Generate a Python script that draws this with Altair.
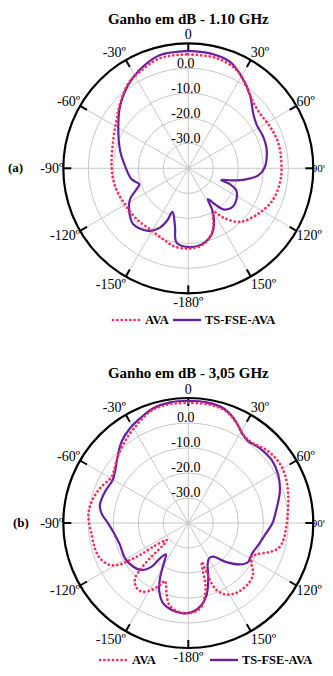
import altair as alt
import pandas as pd

# ------------------------------------------------------------------ data
TITLES = ["Ganho em dB - 1.10 GHz", "Ganho em dB - 3,05 GHz"]
PANELS = ["a", "b"]
TAGS = ["(a)", "(b)"]
SERIES = ["AVA", "TS-FSE-AVA"]

RING_LEVELS = [-30, -20, -10, 0]
RING_LABELS = ["-30.0", "-20.0", "-10.0", "0.0"]
DB_MIN, DB_MAX = -40, 10

ANGLE_TICKS = [0, 30, 60, 90, 120, 150, 180, 210, 240, 270, 300, 330]
ANGLE_LABELS = ["0", "30º", "60º", "90º", "120º", "150º", "-180º",
                "-150º", "-120º", "-90º", "-60º", "-30º"]

# panel (a) 1.10 GHz - AVA (dotted)
A_AVA_ANG = [0, 14.4, 26.2, 35.5, 40, 45, 52.5, 63, 74.5, 90, 98.9, 110, 121.7,
             136, 144.6, 150, 156.6, 162.6, 171.5, 180, 189.7, 199.4, 212,
             225.4, 240.4, 256.5, 271.7, 290.7, 304, 313.6, 324.8, 333.4, 345.6]
A_AVA_DB = [5.6, 5.5, 3.8, 0.1, -1.6, -3.0, -3.9, -3.3, -2.6, -2.7, -2.9, -3.8, -6.3,
            -10.2, -15.8, -19.8, -14.8, -11.0, -8.5, -7.9, -8.2, -9.9, -11.2,
            -11.0, -10.9, -9.8, -9.3, -7.9, -5.4, -2.3, 1.6, 3.2, 5.5]

# panel (a) 1.10 GHz - TS-FSE-AVA (solid)
A_TS_ANG = [0, 10.7, 21.3, 30.2, 40.1, 49.8, 57.6, 67.1, 76.8, 90, 96, 101.3,
            105.5, 109.5, 111, 114.5, 122.7, 132.2, 139.5, 143.5, 147.5, 150,
            154, 160.5, 170, 180, 189, 193, 200, 202, 205.5, 212.5, 224.5, 233,
            242, 248, 252, 259, 272, 285, 300.8, 312, 324.2, 336, 346]
A_TS_DB = [7.0, 6.8, 5.8, 2.4, -1.7, -6.0, -7.6, -7.5, -7.8, -9.6, -12.0, -17.0,
           -22.0, -26.0, -22.0, -19.0, -17.1, -16.6, -18.4, -22.1, -25.4, -21.0,
           -16.5, -12.0, -9.1, -8.5, -9.9, -16.3, -21.5, -17.5, -13.7, -10.3, -8.6, -10.5,
           -13.6, -17.7, -19.4, -16.9, -14.7, -11.7, -7.4, -3.2, 1.1, 4.5, 6.7]

# panel (b) 3,05 GHz - AVA (dotted)
B_AVA_ANG = [0, 10.3, 19, 25.9, 33.3, 39.2, 47, 55.7, 63.6, 74.4, 91.2, 100.1,
             105.7, 110.1, 114.6, 118, 123.5, 127.8, 133.6, 139.9, 146.4, 152.8,
             157.1, 158.9, 159.5, 161, 163.4, 164.4, 168, 171, 175.7, 181, 187.6,
             193, 196.7, 199.8, 202, 204.6, 208.7, 214.2, 219.4, 223.9, 225.8,
             227.1, 227.7, 228.7, 231.9, 235.9, 236.5, 237.6, 238.8, 241.8, 248.2,
             254.8, 262.9, 274.6, 282.4, 291.4, 301.1, 307.5, 314.2, 324, 332.2,
             341, 349.7]
B_AVA_DB = [8.1, 8.1, 7.1, 4.3, 1.3, 1.1, 2.8, 3.6, 3.2, 1.5, -0.7, -1.4,
            -2.6, -5.9, -9.9, -11.3, -9.6, -7.1, -6.0, -5.8, -6.2, -7.9,
            -10.9, -14.1, -18.4, -23.6, -19.0, -14.3, -9.2, -6.1, -4.4, -3.9, -4.5,
            -6.3, -9.9, -13.6, -15.1, -12.7, -9.5, -6.8, -7.0, -9.3, -13.0,
            -17.3, -22.0, -26.7, -29.0, -23.1, -16.8, -12.4, -8.0, -4.4, -2.0,
            -1.3, -1.1, 0.1, -0.4, -2.0, -4.2, -3.0, -1.0, 1.9, 4.3,
            7.1, 8.1]

# panel (b) 3,05 GHz - TS-FSE-AVA (solid)
B_TS_ANG = [0, 8.6, 17, 24.4, 31.5, 36.2, 43.8, 52.9, 61.9, 71.1, 80.6, 90,
            98.9, 107.4, 113.8, 119.8, 122.8, 128.7, 136.5, 143.4, 149.7, 155.3,
            160.1, 165.7, 170.8, 176.8, 183.2, 190.8, 197.3, 202.9, 207.1, 210.8,
            215.5, 218.7, 220, 224.8, 231.5, 240.8, 252.2, 260.7, 267.3, 272, 276,
            281.5, 290.6, 299.6, 305, 312.3, 320.7, 328.4, 335.2, 343, 351.4]
B_TS_DB = [8.9, 8.8, 8.0, 5.2, 1.6, 0.6, 1.4, 1.8, 0.8, -1.3, -4.2, -6.3,
           -9.0, -10.6, -11.6, -11.6, -11.4, -13.5, -18.7, -23.2, -23.6, -21.5,
           -16.5, -10.3, -6.8, -4.5, -3.8, -4.6, -6.3, -10.2, -15.1, -20.5,
           -24.6, -21.9, -17.2, -13.5, -11.9, -11.0, -11.3, -10.3, -8.7, -7.0, -5.2,
           -3.9, -4.4, -5.2, -4.2, -1.6, 2.1, 4.5, 6.1, 8.0, 8.8]

# ------------------------------------------------------------------ layout (page pixels)
PX = 2.5                      # pixels per dB of radius
W, H = 317, 660               # whole chart, fits the 333x676 window
CX, CY_A, CY_B = 188.3, 168.3, 523.0
X0 = (8 - CX) / PX
X1 = X0 + W / PX
Y1 = (CY_A - 8) / PX
Y0 = Y1 - H / PX
OFF_B = -(CY_B - CY_A) / PX
RMAX = DB_MAX - DB_MIN
TICK_U = 8 / PX
TITLE_Y = (CY_A - 23.5) / PX
LEG_Y = {"a": (CY_A - 320) / PX, "b": (CY_B - 660) / PX}
TAG_X = {"a": (8 - CX) / PX, "b": (13 - CX) / PX}
# legend item: (line start, line end, text start) in page px, per panel
LEG_X = {("a", "AVA"): (113, 141, 145), ("a", "TS-FSE-AVA"): (173, 201, 205),
         ("b", "AVA"): (100, 128, 132), ("b", "TS-FSE-AVA"): (210, 238, 242)}

RED = "#FF2B5E"
PURPLE = "#6420A0"
GRID = "#c8c8c8"
FONT = "Liberation Serif"

OFF = f"(datum.panel == 'a' ? 0 : {OFF_B})"
XS = alt.Scale(domain=[X0, X1], nice=False, zero=False)
YS = alt.Scale(domain=[Y0, Y1], nice=False, zero=False)


def X(f):
    return alt.X(f"{f}:Q", scale=XS, axis=None)


def Y(f):
    return alt.Y(f"{f}:Q", scale=YS, axis=None)


# ------------------------------------------------------------------ tables
rows = []
for panel, series, angs, dbs in [("a", "AVA", A_AVA_ANG, A_AVA_DB),
                                 ("a", "TS-FSE-AVA", A_TS_ANG, A_TS_DB),
                                 ("b", "AVA", B_AVA_ANG, B_AVA_DB),
                                 ("b", "TS-FSE-AVA", B_TS_ANG, B_TS_DB)]:
    assert len(angs) == len(dbs), (panel, series)
    pts = list(zip(angs, dbs)) + [(angs[0] + 360, dbs[0])]
    for i, (a, d) in enumerate(pts):
        rows.append(dict(panel=panel, series=series, idx=i, ang=a, db=d))
curves = pd.DataFrame(rows)

rings = pd.DataFrame([dict(panel=p, level=l, label=t)
                      for p in PANELS for l, t in zip(RING_LEVELS, RING_LABELS)])
outer = pd.DataFrame([dict(panel=p, level=DB_MAX) for p in PANELS])
spokes = pd.DataFrame([dict(panel=p, ang=a, label=t)
                       for p in PANELS for a, t in zip(ANGLE_TICKS, ANGLE_LABELS)])
titles = pd.DataFrame([dict(panel=p, title=t, tag=g)
                       for p, t, g in zip(PANELS, TITLES, TAGS)])
legend = pd.DataFrame([dict(panel=p, series=s, ly=LEG_Y[p],
                            xa=(LEG_X[(p, s)][0] - CX) / PX,
                            xb=(LEG_X[(p, s)][1] - CX) / PX,
                            xt=(LEG_X[(p, s)][2] - CX) / PX)
                       for p in PANELS for s in SERIES])

# ------------------------------------------------------------------ layers
ring_layer = alt.Chart(rings).transform_calculate(
    rpx=f"(datum.level - ({DB_MIN})) * {PX}",
    sz="4 * datum.rpx * datum.rpx",
    cx="0", cy=OFF,
).mark_point(shape="circle", filled=False, color=GRID, strokeWidth=1, opacity=1,
             clip=True).encode(
    x=X("cx"), y=Y("cy"), size=alt.Size("sz:Q", scale=None))

outer_layer = alt.Chart(outer).transform_calculate(
    rpx=f"(datum.level - ({DB_MIN})) * {PX}",
    sz="4 * datum.rpx * datum.rpx",
    cx="0", cy=OFF,
).mark_point(shape="circle", filled=False, color="black", strokeWidth=2.2, opacity=1,
             clip=True).encode(
    x=X("cx"), y=Y("cy"), size=alt.Size("sz:Q", scale=None))

spoke_layer = alt.Chart(spokes).transform_calculate(
    cx="0", cy=OFF,
    ex=f"{RMAX} * sin(datum.ang * PI / 180)",
    ey=f"{RMAX} * cos(datum.ang * PI / 180) + {OFF}",
).mark_rule(color=GRID, strokeWidth=1, clip=True).encode(
    x=X("cx"), y=Y("cy"), x2="ex:Q", y2="ey:Q")

tick_layer = alt.Chart(spokes).transform_calculate(
    ox=f"{RMAX} * sin(datum.ang * PI / 180)",
    oy=f"{RMAX} * cos(datum.ang * PI / 180) + {OFF}",
    ix=f"{RMAX - TICK_U} * sin(datum.ang * PI / 180)",
    iy=f"{RMAX - TICK_U} * cos(datum.ang * PI / 180) + {OFF}",
).mark_rule(color="black", strokeWidth=2, clip=True).encode(
    x=X("ox"), y=Y("oy"), x2="ix:Q", y2="iy:Q")

ring_text = alt.Chart(rings).transform_calculate(
    tx="-1", ty=f"datum.level - ({DB_MIN}) + 0.3 + {OFF}",
).mark_text(font=FONT, fontSize=14, align="center", baseline="alphabetic",
            color="black", clip=True).encode(x=X("tx"), y=Y("ty"), text="label:N")

angle_base = alt.Chart(spokes).transform_calculate(
    s="sin(datum.ang * PI / 180)", c="cos(datum.ang * PI / 180)",
).transform_calculate(
    lx=f"{RMAX} * datum.s",
    ly=f"{RMAX} * datum.c + {OFF} - (1 - 9 * datum.c) / {PX}",
    side="datum.s > 0.99 ? 'E' : (datum.s > 0.01 ? 'L' : (datum.s < -0.01 ? 'R' : 'C'))",
)
angle_layers = []
for side, align, fs, dx in [("L", "left", 14, 0), ("R", "right", 14, 0),
                            ("C", "center", 14, 0), ("E", "left", 11, -1.5)]:
    angle_layers.append(
        angle_base.transform_filter(f"datum.side == '{side}'").mark_text(
            font=FONT, fontSize=fs, align=align, baseline="middle", color="black",
            dx=dx, clip=True
        ).encode(x=X("lx"), y=Y("ly"), text="label:N"))


def curve(series, **style):
    return alt.Chart(curves).transform_filter(
        f"datum.series == '{series}'"
    ).transform_calculate(
        r=f"max(datum.db - ({DB_MIN}), 0)",
    ).transform_calculate(
        px="datum.r * sin(datum.ang * PI / 180)",
        py=f"datum.r * cos(datum.ang * PI / 180) + {OFF}",
    ).mark_line(interpolate="catmull-rom", clip=True, **style).encode(
        x=X("px"), y=Y("py"), detail="panel:N", order="idx:Q")


ts_layer = curve("TS-FSE-AVA", color=PURPLE, strokeWidth=2.2)
ava_layer = curve("AVA", color=RED, strokeWidth=2.7, strokeDash=[0.1, 4.2],
                  strokeCap="round")

title_layer = alt.Chart(titles).transform_calculate(
    tx="0", ty=f"{TITLE_Y} + {OFF}",
).mark_text(font=FONT, fontSize=15, fontWeight="bold", align="center",
            baseline="alphabetic", color="black", clip=True).encode(
    x=X("tx"), y=Y("ty"), text="title:N")

tag_layer = alt.Chart(titles).transform_calculate(
    tx=f"datum.panel == 'a' ? {TAG_X['a']} : {TAG_X['b']}", ty=OFF,
).mark_text(font=FONT, fontSize=13, fontWeight="bold", align="left",
            baseline="middle", color="black", clip=True).encode(
    x=X("tx"), y=Y("ty"), text="tag:N")

leg_base = alt.Chart(legend).transform_calculate(lyy=f"datum.ly + {OFF}")
leg_ava = leg_base.transform_filter("datum.series == 'AVA'").mark_rule(
    color=RED, strokeWidth=2.7, strokeDash=[0.1, 4.2], strokeCap="round",
    clip=True).encode(x=X("xa"), x2="xb:Q", y=Y("lyy"))
leg_ts = leg_base.transform_filter("datum.series == 'TS-FSE-AVA'").mark_rule(
    color=PURPLE, strokeWidth=2.4, clip=True).encode(x=X("xa"), x2="xb:Q", y=Y("lyy"))
leg_text = leg_base.mark_text(font=FONT, fontSize=12.5, fontWeight="bold",
                              align="left", baseline="middle", color="black",
                              clip=True).encode(
    x=X("xt"), y=Y("lyy"), text="series:N")

chart = alt.layer(
    ring_layer, spoke_layer, outer_layer, tick_layer, ring_text,
    ts_layer, ava_layer, *angle_layers, title_layer, tag_layer,
    leg_ava, leg_ts, leg_text,
).properties(
    width=W, height=H, padding=0, background="white",
    autosize=alt.AutoSizeParams(type="none"),
).configure_view(stroke=None)

chart.save("out.html", embed_options={"renderer": "svg", "actions": False})
